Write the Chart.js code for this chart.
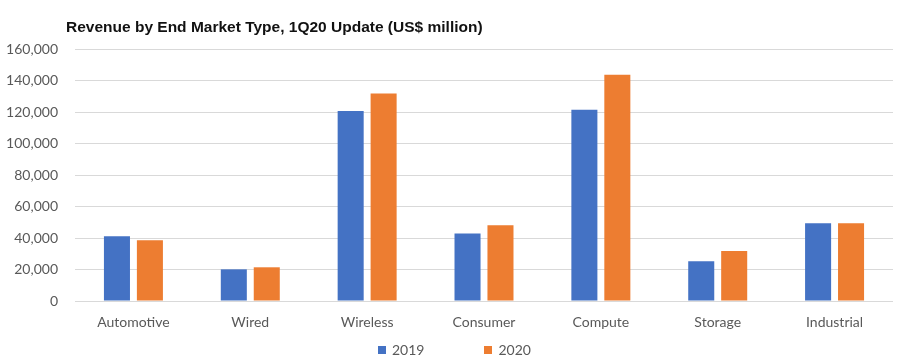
<!DOCTYPE html>
<html>
<head>
<meta charset="utf-8">
<script src="https://cdn.jsdelivr.net/npm/chart.js@4.4.1/dist/chart.umd.min.js"></script>
<style>
    html, body { margin: 0; padding: 0; background: #fff; }
    .wrap { position: relative; width: 909px; height: 360px; }
    .title {
        position: absolute; left: 66px; top: 18px;
        font: bold 15.5px "Liberation Sans", Arial, sans-serif; color: #111;
        white-space: nowrap;
    }
    .legend {
        position: absolute; left: 378px; top: 341px;
        font: 14px Lato, sans-serif; color: #595959;
        display: flex; align-items: center;
    }
    .legend span.box { display: inline-block; width: 8px; height: 8px; margin-right: 6px; }
    .legend .item { display: flex; align-items: center; margin-right: 60px; }
    canvas { position: absolute; left: 0; top: 0; }
</style>
</head>
<body>
<div class="wrap">
    <canvas id="revenueChart" width="909" height="360"></canvas>
    <div class="title">Revenue by End Market Type, 1Q20 Update (US$ million)</div>
    <div class="legend" id="legend"></div>
</div>

<script>
// ================= DATA =================
const categories = ["Automotive", "Wired", "Wireless", "Consumer", "Compute", "Storage", "Industrial"];
const seriesNames = ["2019", "2020"];
const revenue2019 = [41100, 20100, 120600, 42800, 121500, 25200, 49300];
const revenue2020 = [38500, 21400, 131700, 48100, 143700, 31700, 49300];
const seriesColors = ["#4472C4", "#ED7D31"];

const yMax = 160000;
const yStep = 20000;


// ================= LEGEND =================
function buildLegend() {

    const legend = document.getElementById("legend");

    seriesNames.forEach((name, i) => {
        const item = document.createElement("div");
        item.className = "item";
        item.innerHTML = `<span class="box" style="background:${seriesColors[i]}"></span>${name}`;
        legend.appendChild(item);
    });

}


// ================= CHART =================
function renderChart() {

    new Chart(document.getElementById("revenueChart"), {
        type: "bar",
        data: {
            labels: categories,
            datasets: [
                {
                    label: seriesNames[0],
                    data: revenue2019,
                    backgroundColor: seriesColors[0]
                },
                {
                    label: seriesNames[1],
                    data: revenue2020,
                    backgroundColor: seriesColors[1]
                }
            ]
        },
        options: {
            responsive: false,
            animation: false,
            layout: { padding: { left: 0, right: 16, top: 49, bottom: 0 } },
            datasets: {
                bar: { categoryPercentage: 0.564, barPercentage: 0.79 }
            },
            plugins: {
                legend: { display: false },
                tooltip: { enabled: false }
            },
            scales: {
                x: {
                    grid: { display: false },
                    border: { display: false },
                    ticks: {
                        color: "#595959",
                        font: { family: "Lato", size: 14 },
                        padding: 5
                    },
                    afterFit: scale => { scale.height = 59; }
                },
                y: {
                    min: 0,
                    max: yMax,
                    grid: { color: "#d9d9d9", drawTicks: false },
                    border: { display: false },
                    ticks: {
                        stepSize: yStep,
                        color: "#595959",
                        font: { family: "Lato", size: 14 },
                        padding: 17,
                        callback: v => v.toLocaleString("en-US")
                    },
                    afterFit: scale => { scale.width = 75; }
                }
            }
        }
    });

}

buildLegend();
renderChart();
</script>
</body>
</html>
